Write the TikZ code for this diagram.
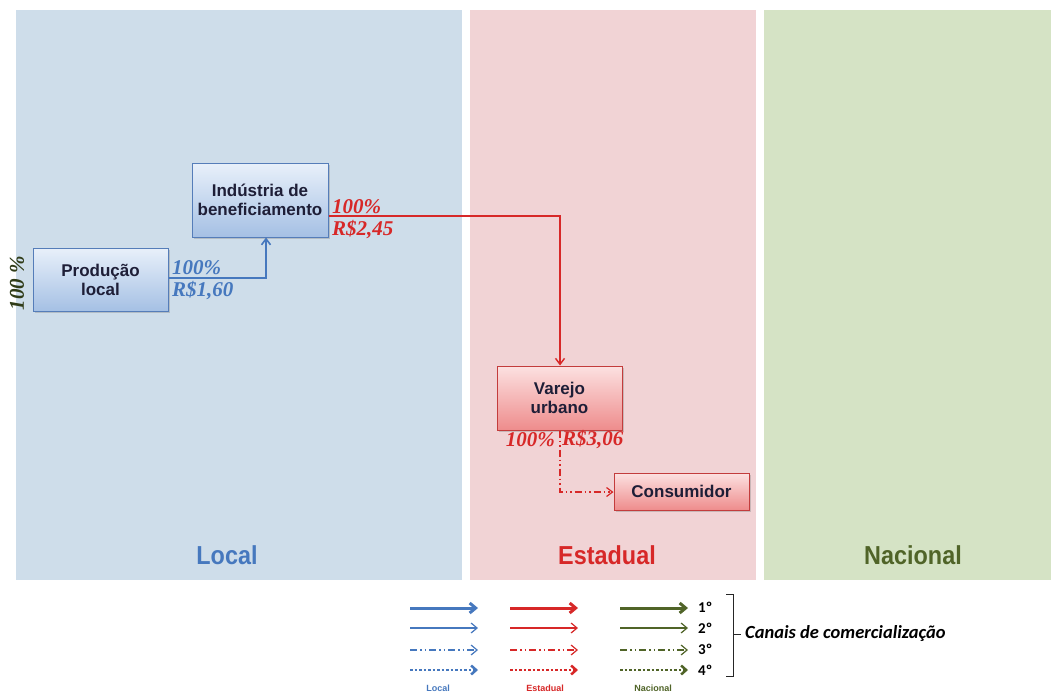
\documentclass[tikz,border=0pt]{standalone}
\usepackage{fontspec}
\setmainfont{Liberation Serif}
\setsansfont{Liberation Sans}
\newfontfamily\calib{Carlito}
\usetikzlibrary{arrows.meta,shadows}
\definecolor{panelB}{RGB}{206,221,234}
\definecolor{panelR}{RGB}{241,211,213}
\definecolor{panelG}{RGB}{213,227,197}
\definecolor{lblue}{RGB}{70,120,190}
\definecolor{lred}{RGB}{215,40,40}
\definecolor{lgreen}{RGB}{80,100,40}
\definecolor{txtB}{RGB}{30,30,55}
\definecolor{boxBt}{RGB}{232,240,250}
\definecolor{boxBb}{RGB}{165,192,228}
\definecolor{boxBd}{RGB}{85,125,185}
\definecolor{boxRt}{RGB}{252,225,225}
\definecolor{boxRb}{RGB}{238,140,140}
\definecolor{boxRd}{RGB}{195,60,60}
\begin{document}
\begin{tikzpicture}[x=1pt,y=-1pt,
  bbox/.style={draw=boxBd,line width=1pt,top color=boxBt,bottom color=boxBb,
    font=\sffamily\bfseries\fontsize{17}{19}\selectfont,text=txtB,align=center,
    drop shadow={opacity=0.35,shadow xshift=2pt,shadow yshift=-2pt},inner sep=0pt},
  rbox/.style={bbox,draw=boxRd,top color=boxRt,bottom color=boxRb},
  val/.style={font=\bfseries\itshape\fontsize{21}{23}\selectfont,inner sep=0pt},
  region/.style={font=\sffamily\bfseries\fontsize{26}{28}\selectfont,xscale=0.9},
  flow/.style={line width=1.6pt,-{Straight Barb[length=6pt,width=9pt]}},
  leg1/.style={line width=3pt,-{Straight Barb[length=6pt,width=10pt,line width=3pt]}},
  leg2/.style={line width=1.2pt,-{Straight Barb[length=6pt,width=10pt]}},
  leg3/.style={line width=1.2pt,dash pattern=on 7pt off 3pt on 1.5pt off 3pt on 1.5pt off 3pt,-{Straight Barb[length=6pt,width=10pt]}},
  leg4/.style={line width=2.5pt,dash pattern=on 2.5pt off 2pt,-{Straight Barb[length=5pt,width=9pt,line width=2.5pt]}},
  ord/.style={font=\calib\bfseries\fontsize{15}{17}\selectfont,anchor=west,inner sep=0pt},
  small/.style={font=\sffamily\bfseries\fontsize{9}{10}\selectfont}
]
\useasboundingbox (0,0) rectangle (1051,696);
\fill[white] (0,0) rectangle (1051,696);
% panels
\fill[panelB] (16,10) rectangle (462,580);
\fill[panelR] (470,10) rectangle (756,580);
\fill[panelG] (764,10) rectangle (1051,580);
\node[region,text=lblue] (rl) at (227,555) {Local};
\node[region,text=lred] (re) at (607,555) {Estadual};
\node[region,text=lgreen] (rn) at (913,555) {Nacional};
% boxes
\node[bbox,minimum width=135pt,minimum height=63pt] (prod) at (100.5,279.5) {Produção\\local};
\node[bbox,minimum width=136pt,minimum height=74pt] (ind) at (260,200) {Indústria de\\beneficiamento};
\node[rbox,minimum width=125pt,minimum height=64pt] (var) at (559.5,398) {Varejo\\urbano};
\node[rbox,minimum width=135pt,minimum height=37pt] (cons) at (681.5,491.5) {Consumidor};
\node[font=\bfseries\itshape\fontsize{21}{23}\selectfont,text=lgreen!60!black,rotate=90] (pct) at (17,283) {100 \%};
% flows
\coordinate (c1) at (266,278);
\draw[flow,lblue] (prod.east |- c1) -- (c1) -- (ind.south -| c1);
\coordinate (c2) at (560,216);
\draw[line width=1.4pt,lred,-{Straight Barb[length=6pt,width=9pt]}] (ind.east |- c2) -- (c2) -- (var.north -| c2);
\coordinate (c3) at (560,492);
\draw[line width=1.2pt,lred,dash pattern=on 7pt off 3pt on 1.5pt off 3pt on 1.5pt off 3pt,-{Straight Barb[length=6pt,width=9pt]}] (var.south -| c3) -- (c3) -- (cons.west |- c3);
% values
\node[val,text=lblue,anchor=west] (v1a) at (172,268) {100\%};
\node[val,text=lblue,anchor=west] (v1b) at (172,291) {R\$1,60};
\node[val,text=lred,anchor=west] (v2a) at (332,207) {100\%};
\node[val,text=lred,anchor=west] (v2b) at (332,230) {R\$2,45};
\node[val,text=lred,anchor=east] (v3a) at (555,440) {100\%};
\node[val,text=lred,anchor=west] (v3b) at (562,440) {R\$3,06};
% legend
\foreach \c/\x [count=\i] in {lblue/410,lred/510,lgreen/620}{
  \coordinate (a1\i) at (\x,608); \coordinate (b1\i) at (\x+68,608);
  \coordinate (a2\i) at (\x,628); \coordinate (b2\i) at (\x+68,628);
  \coordinate (a3\i) at (\x,650); \coordinate (b3\i) at (\x+68,650);
  \coordinate (a4\i) at (\x,670); \coordinate (b4\i) at (\x+68,670);
  \draw[leg1,\c] (a1\i) -- (b1\i);
  \draw[leg2,\c] (a2\i) -- (b2\i);
  \draw[leg3,\c] (a3\i) -- (b3\i);
  \draw[leg4,\c] (a4\i) -- (b4\i);
}
\node[ord] (o1) at (698,607) {1º};
\node[ord] (o2) at (698,628) {2º};
\node[ord] (o3) at (698,649) {3º};
\node[ord] (o4) at (698,670) {4º};
\coordinate (k1) at (726,594);
\coordinate (k2) at (733,594);
\coordinate (k3) at (733,676);
\coordinate (k4) at (726,676);
\coordinate (k5) at (733,634);
\coordinate (k6) at (741,634);
\draw[line width=1pt,black!85] (k1) -- (k2) -- (k3) -- (k4);
\draw[line width=1pt,black!85] (k5) -- (k6);
\node[font=\calib\bfseries\itshape\fontsize{18.5}{20}\selectfont,anchor=west,inner sep=0pt] (canais) at (745,634) {Canais de comercialização};
\node[small,text=lblue] (ll) at (438,688) {Local};
\node[small,text=lred] (le) at (545,688) {Estadual};
\node[small,text=lgreen] (ln) at (653,688) {Nacional};
\end{tikzpicture}
\end{document}
